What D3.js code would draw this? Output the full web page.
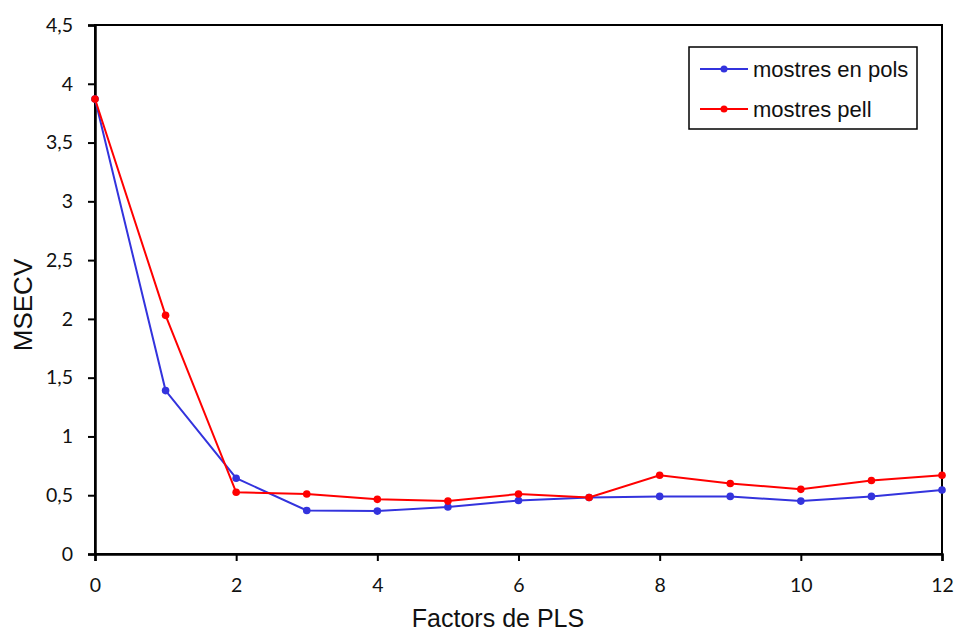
<!DOCTYPE html>
<html>
<head>
<meta charset="utf-8">
<script src="https://cdn.jsdelivr.net/npm/d3@7"></script>
<style>
  html, body { margin: 0; padding: 0; background: #fff; }
  svg { display: block; }
</style>
</head>
<body>
<svg id="chart" width="954" height="633"></svg>
<script>
// PLS factors and cross-validated error for both sample types
const factors = [0, 1, 2, 3, 4, 5, 6, 7, 8, 9, 10, 11, 12];
const msecvPols = [3.87, 1.39, 0.645, 0.37, 0.365, 0.40, 0.455, 0.48, 0.49, 0.49, 0.45, 0.49, 0.545];
const msecvPell = [3.87, 2.03, 0.525, 0.51, 0.465, 0.45, 0.51, 0.48, 0.67, 0.60, 0.55, 0.625, 0.67];
const seriesNames = ["mostres en pols", "mostres pell"];
const seriesColors = ["#3333dd", "#ff0000"];
const xTicks = [0, 2, 4, 6, 8, 10, 12];
const yTicks = [0, 0.5, 1, 1.5, 2, 2.5, 3, 3.5, 4, 4.5];

const svg = d3.select("#chart");
const m = { left: 95, right: 942, top: 25, bottom: 554 };

const x = d3.scaleLinear().domain([0, 12]).range([m.left, m.right]);
const y = d3.scaleLinear().domain([0, 4.5]).range([m.bottom, m.top]);

const fmt = d => String(d).replace(".", ",");
const tickFont = "Lato, 'Open Sans', sans-serif";
const titleFont = "'Liberation Sans', Arial, sans-serif";

// Plot frame
svg.append("rect")
  .attr("x", m.left).attr("y", m.top)
  .attr("width", m.right - m.left).attr("height", m.bottom - m.top)
  .attr("fill", "none").attr("stroke", "#000").attr("stroke-width", 2);

// Axes
const xAxis = svg.append("g")
  .attr("transform", `translate(0,${m.bottom})`)
  .call(d3.axisBottom(x).tickValues(xTicks).tickSize(7).tickPadding(17).tickFormat(fmt));
const yAxis = svg.append("g")
  .attr("transform", `translate(${m.left},0)`)
  .call(d3.axisLeft(y).tickValues(yTicks).tickSize(7).tickPadding(15).tickFormat(fmt));

[xAxis, yAxis].forEach(g => {
  g.select(".domain").attr("stroke", "#000").attr("stroke-width", 2.5);
  g.selectAll(".tick line").attr("stroke", "#000").attr("stroke-width", 2);
  g.selectAll(".tick text")
    .attr("fill", "#111")
    .style("font-family", tickFont)
    .style("font-size", "19.5px");
});

// Axis titles
svg.append("text")
  .attr("x", 498).attr("y", 627)
  .attr("text-anchor", "middle")
  .style("font-family", titleFont)
  .style("font-size", "25px").attr("fill", "#111")
  .text("Factors de PLS");
svg.append("text")
  .attr("transform", `translate(32,305) rotate(-90)`)
  .attr("text-anchor", "middle")
  .style("font-family", titleFont)
  .style("font-size", "26px").attr("fill", "#111")
  .text("MSECV");

// Series
const allSeries = [msecvPols, msecvPell];
const line = d3.line().x((d, i) => x(factors[i])).y(d => y(d));

allSeries.forEach((vals, si) => {
  const g = svg.append("g");
  g.append("path")
    .datum(vals)
    .attr("d", line)
    .attr("fill", "none")
    .attr("stroke", seriesColors[si])
    .attr("stroke-width", 2);
  g.selectAll("circle")
    .data(vals)
    .join("circle")
    .attr("cx", (d, i) => x(factors[i]))
    .attr("cy", d => y(d))
    .attr("r", 3.8)
    .attr("fill", seriesColors[si]);
});

// Legend
const legend = svg.append("g");
legend.append("rect")
  .attr("x", 689).attr("y", 47).attr("width", 228).attr("height", 82)
  .attr("fill", "#fff").attr("stroke", "#000").attr("stroke-width", 1.5);
seriesNames.forEach((name, i) => {
  const ly = 69 + i * 40;
  legend.append("line")
    .attr("x1", 700).attr("x2", 748).attr("y1", ly).attr("y2", ly)
    .attr("stroke", seriesColors[i]).attr("stroke-width", 2);
  legend.append("circle")
    .attr("cx", 724).attr("cy", ly).attr("r", 3.5)
    .attr("fill", seriesColors[i]);
  legend.append("text")
    .attr("x", 753).attr("y", ly + 8)
    .style("font-family", titleFont)
    .style("font-size", "22px").attr("fill", "#111")
    .text(name);
});
</script>
</body>
</html>
